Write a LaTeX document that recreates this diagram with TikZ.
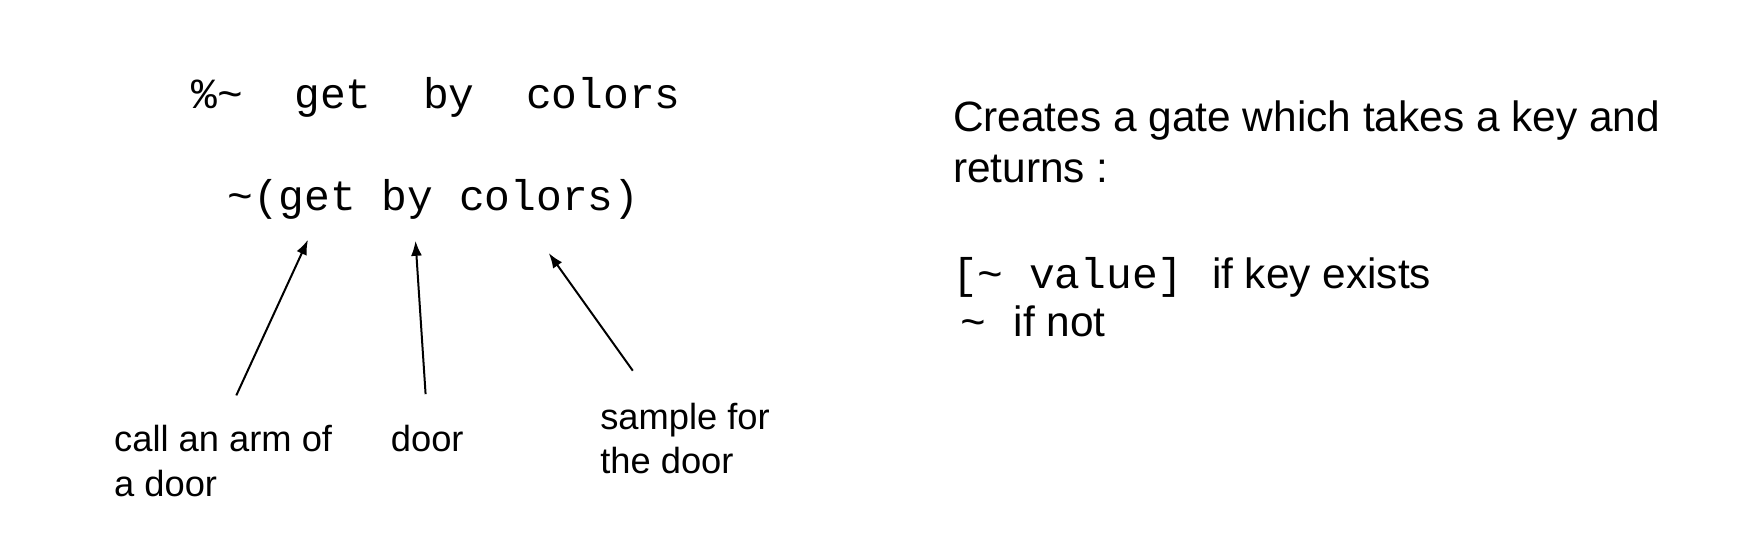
\documentclass[tikz,border=0pt]{standalone}
\usepackage{fontspec}
\setmainfont{Liberation Sans}
\newfontfamily\codefont{Liberation Mono}
\usetikzlibrary{arrows.meta}
\begin{document}
\begin{tikzpicture}[x=1pt,y=-1pt,
  every node/.style={inner sep=0pt, outer sep=0pt, anchor=base west},
  code/.style={font=\codefont\fontsize{42.9}{51.5}\selectfont},
  desc/.style={font=\fontsize{42.4}{51.5}\selectfont},
  lbl/.style={font=\fontsize{36.3}{44.8}\selectfont, align=left},
  arr/.style={line width=2pt, -{Latex[length=15pt,width=11pt]}}]
\useasboundingbox (0,0) rectangle (1756,552);
% code lines
\node[code] (l1) at (191.5,108.6) {\%\textasciitilde\ \ get\ \ by\ \ colors};
\node[code] (l2) at (227.4,210.6) {\textasciitilde(get by colors)};
% right description
\node[desc] (d1) at (953,131) {Creates a gate which takes a key and};
\node[desc] (d2) at (953,182.6) {returns :};
\node[code] (v1) at (952,288) {[\textasciitilde\ value]};
\node[desc] (v2) at (1212,288) {if key exists};
\node[code] (n1) at (960.4,336) {\textasciitilde};
\node[desc] (n2) at (1013.6,336) {if not};
% labels (base anchor = last line baseline)
\node[lbl] (c1) at (114.2,496.2) {call an arm of\\a door};
\node[lbl] (c2) at (390.9,451.4) {door};
\node[lbl] (c3) at (600.3,473.8) {sample for\\the door};
% arrows
\coordinate (a1s) at (236.3,395.4);
\coordinate (a1e) at (308,239.7);
\coordinate (a2s) at (425.6,394.2);
\coordinate (a2e) at (415.5,240.8);
\coordinate (a3s) at (632.8,370.7);
\coordinate (a3e) at (548.8,253.1);
\draw[arr] (a1s) -- (a1e);
\draw[arr] (a2s) -- (a2e);
\draw[arr] (a3s) -- (a3e);
\end{tikzpicture}
\end{document}
